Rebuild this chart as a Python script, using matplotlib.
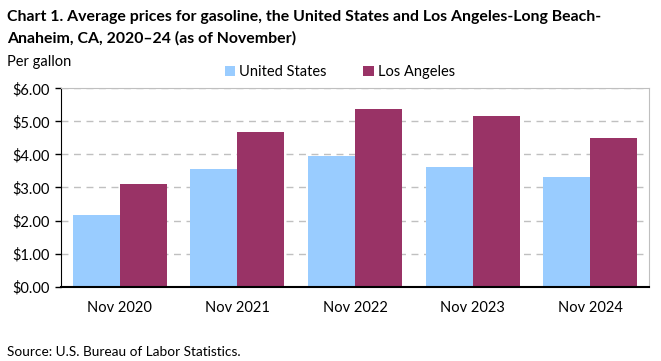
import matplotlib
matplotlib.use('Agg')

import matplotlib.pyplot as plt
import numpy as np

categories = ["Nov 2020", "Nov 2021", "Nov 2022", "Nov 2023", "Nov 2024"]
us_prices = [2.17, 3.56, 3.95, 3.62, 3.31]
la_prices = [3.11, 4.68, 5.37, 5.16, 4.50]
y_ticks = [0, 1, 2, 3, 4, 5, 6]

plt.rcParams['font.family'] = ['Lato', 'DejaVu Sans']

fig = plt.figure(figsize=(6.61, 3.61), dpi=100)
ax = fig.add_axes([61 / 661, (361 - 286.7) / 361, 588 / 661, 198.4 / 361])

x = np.arange(len(categories))
w = 0.4
ax.bar(x - w / 2, us_prices, w, color='#99CCFF', label='United States', zorder=3)
ax.bar(x + w / 2, la_prices, w, color='#993366', label='Los Angeles', zorder=3)

ax.set_xlim(-0.5, len(categories) - 0.5)
ax.set_ylim(0, 6)
ax.set_yticks(y_ticks)
ax.set_yticklabels([f"${v:.2f}" for v in y_ticks], fontsize=10.5)
ax.set_xticks(x)
ax.set_xticklabels(categories, fontsize=10.5)
ax.tick_params(axis='x', length=0, pad=10)
ax.tick_params(axis='y', length=4, width=1, pad=4)

ax.yaxis.grid(True, linestyle=(0, (5, 4)), color='#C0C0C0', linewidth=1, zorder=0)
ax.spines['left'].set_color('black')
ax.spines['bottom'].set_color('black')
ax.spines['bottom'].set_linewidth(1.5)
ax.spines['top'].set_color('#BFBFBF')
ax.spines['right'].set_color('#BFBFBF')
ax.spines['bottom'].set_zorder(4)

fig.text(7 / 661, 1 - 17 / 361, "Chart 1. Average prices for gasoline, the United States and Los Angeles-Long Beach-",
         fontsize=11.4, fontweight='bold', va='center', ha='left')
fig.text(7 / 661, 1 - 38 / 361, "Anaheim, CA, 2020\u201324 (as of November)",
         fontsize=11.4, fontweight='bold', va='center', ha='left')
fig.text(7 / 661, 1 - 62 / 361, "Per gallon", fontsize=10.5, va='center', ha='left')

fig.legend(loc='center', bbox_to_anchor=(340 / 661, 1 - 72 / 361), ncol=2, frameon=False,
           fontsize=10.5, handlelength=0.7, handleheight=0.7, handletextpad=0.3, columnspacing=2.5)

fig.text(7 / 661, 1 - 352 / 361, "Source: U.S. Bureau of Labor Statistics.", fontsize=9.8, va='center', ha='left')

plt.savefig('out.png', dpi=100)
plt.close()
